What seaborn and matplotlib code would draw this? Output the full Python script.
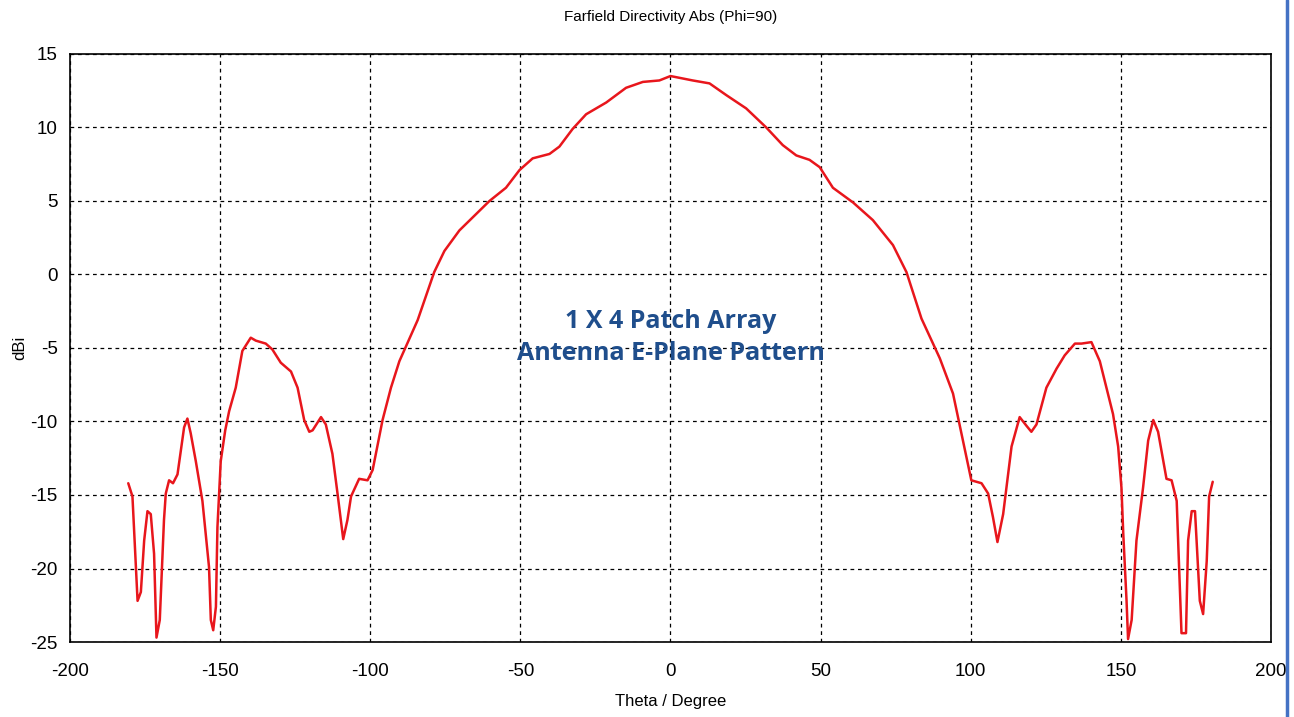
import matplotlib
matplotlib.use("Agg")
import matplotlib.pyplot as plt
import matplotlib.lines as mlines
import numpy as np
import pandas as pd
import seaborn as sns

# theta (deg) and directivity (dBi)
theta = [-180.6, -179.2, -177.5, -176.4, -175.3, -174.2, -173.1, -172.0, -171.2, -170.1,
         -168.7, -168.1, -167.0, -165.7, -164.2, -162.0, -160.9, -159.8, -158.1, -155.9,
         -153.7, -153.1, -152.3, -151.4, -150.9, -149.8, -148.3, -147.0, -144.8, -142.6,
         -139.8, -138.1, -134.8, -132.6, -129.8, -126.4, -124.2, -122.0, -120.3, -119.2,
         -116.4, -114.8, -112.6, -110.9, -109.0, -107.6, -106.4, -103.7, -100.9, -99.2,
         -95.9, -93.1, -90.3, -84.2, -78.7, -75.3, -70.3, -64.8, -60.3, -54.8,
         -50.3, -45.9, -40.3, -37.0, -32.6, -28.1, -21.4, -14.8, -9.2, -3.7,
         0.0, 7.4, 13.0, 18.6, 25.2, 31.9, 37.4, 41.9, 46.3, 49.7,
         54.1, 60.8, 67.4, 74.1, 78.6, 83.6, 89.7, 94.1, 97.4, 100.2,
         103.6, 105.8, 107.4, 108.9, 110.8, 113.6, 116.3, 118.6, 120.2, 121.9,
         125.2, 128.6, 131.3, 134.7, 136.9, 140.2, 143.0, 145.2, 147.4, 149.1,
         150.2, 150.8, 151.9, 152.4, 153.6, 155.2, 157.4, 159.1, 160.8, 162.4,
         165.2, 166.9, 168.6, 170.2, 171.7, 172.4, 173.6, 174.7, 176.3, 177.4,
         178.6, 179.4, 180.6]
dbi = [-14.2, -15.1, -22.2, -21.6, -18.1, -16.1, -16.3, -19.0, -24.7, -23.5,
       -16.7, -14.9, -14.0, -14.2, -13.6, -10.4, -9.8, -10.8, -12.7, -15.4,
       -19.9, -23.5, -24.2, -22.6, -17.2, -12.7, -10.6, -9.3, -7.7, -5.2,
       -4.3, -4.5, -4.7, -5.1, -6.0, -6.6, -7.7, -9.9, -10.7, -10.6,
       -9.7, -10.2, -12.2, -14.9, -18.0, -16.7, -15.1, -13.9, -14.0, -13.3,
       -9.9, -7.7, -5.9, -3.1, 0.16, 1.6, 3.0, 4.1, 5.0, 5.9,
       7.1, 7.9, 8.2, 8.7, 9.9, 10.9, 11.7, 12.7, 13.1, 13.2,
       13.5, 13.2, 13.0, 12.2, 11.3, 10.0, 8.8, 8.1, 7.8, 7.3,
       5.9, 4.9, 3.7, 2.0, 0.16, -3.0, -5.7, -8.1, -11.3, -14.0,
       -14.2, -14.9, -16.5, -18.2, -16.3, -11.7, -9.7, -10.3, -10.7, -10.2,
       -7.7, -6.4, -5.5, -4.7, -4.7, -4.6, -5.9, -7.7, -9.5, -11.7,
       -14.5, -17.6, -22.2, -24.8, -23.5, -18.1, -14.5, -11.3, -9.9, -10.7,
       -13.9, -14.0, -15.4, -24.4, -24.4, -18.1, -16.1, -16.1, -22.2, -23.1,
       -19.5, -15.1, -14.1]

x_ticks = [-200, -150, -100, -50, 0, 50, 100, 150, 200]
y_ticks = [-25, -20, -15, -10, -5, 0, 5, 10, 15]

df = pd.DataFrame({"theta": theta, "dbi": dbi})

sns.set_style("white")
plt.rcParams["font.family"] = ["Liberation Sans", "DejaVu Sans"]
plt.rcParams["axes.unicode_minus"] = False
plt.rcParams["text.color"] = "black"
plt.rcParams["axes.labelcolor"] = "black"

fig = plt.figure(figsize=(12.94, 7.17), dpi=100)
ax = fig.add_axes([0.0541, 0.1046, 0.9281, 0.8201])

sns.lineplot(data=df, x="theta", y="dbi", color="#e8161c", linewidth=1.8,
             sort=False, ax=ax)

ax.set_xlim(-200, 200)
ax.set_ylim(-25, 15)
ax.set_xticks(x_ticks)
ax.set_yticks(y_ticks)
ax.grid(True, color="black", linestyle=(0, (3, 3)), linewidth=0.9)
for s in ax.spines.values():
    s.set_color("black")
    s.set_linewidth(1.2)
ax.tick_params(axis="both", direction="out", length=5, width=1,
               labelsize=13.5, colors="black")
ax.tick_params(axis="x", pad=10)
ax.tick_params(axis="y", pad=4)

ax.set_xlabel("Theta / Degree", fontsize=12, labelpad=10)
ax.set_ylabel("dBi", fontsize=12, labelpad=2)
ax.set_title("Farfield Directivity Abs (Phi=90)", fontsize=11, pad=24)

ax.text(0, -4.3, "1 X 4 Patch Array\nAntenna E-Plane Pattern",
        ha="center", va="center", fontsize=18, fontweight="bold",
        color="#1f4e8c", family=["Open Sans", "DejaVu Sans"], linespacing=1.35)

# window edge at the right
fig.add_artist(mlines.Line2D([0.9946, 0.9946], [0, 1], color="#4472c4",
                             linewidth=2.5, transform=fig.transFigure))

fig.savefig("out.png", dpi=100)
